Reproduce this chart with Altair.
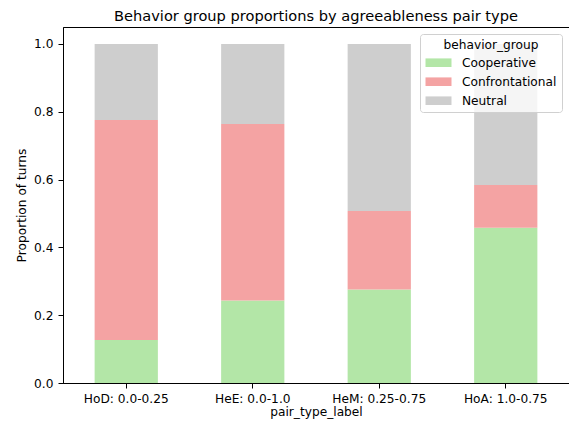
import altair as alt
import pandas as pd

pair_types = ["HoD: 0.0-0.25", "HeE: 0.0-1.0", "HeM: 0.25-0.75", "HoA: 1.0-0.75"]
groups = ["Cooperative", "Confrontational", "Neutral"]
cooperative = [0.127, 0.243, 0.276, 0.458]
confrontational = [0.649, 0.521, 0.231, 0.126]
neutral = [0.224, 0.236, 0.493, 0.416]
colors = ["#b3e6a7", "#f4a3a3", "#cecece"]

rows = []
for i, p in enumerate(pair_types):
    for j, (g, vals) in enumerate(zip(groups, [cooperative, confrontational, neutral])):
        rows.append({"pair_type_label": p, "behavior_group": g, "proportion": vals[i], "ord": j})
df = pd.DataFrame(rows)

font = "DejaVu Sans"
fs = 12.2

chart = alt.Chart(df).mark_bar().encode(
    x=alt.X("pair_type_label:N", sort=pair_types, title="pair_type_label",
            scale=alt.Scale(paddingInner=0.5, paddingOuter=0.25),
            axis=alt.Axis(labelAngle=0, labelFontSize=fs, titleFontSize=fs, labelColor="black",
                          titleColor="black", domainColor="black", tickColor="black", tickSize=5,
                          titleFontWeight="normal", labelPadding=4, titlePadding=1)),
    y=alt.Y("proportion:Q", title="Proportion of turns", stack="zero",
            scale=alt.Scale(domain=[0, 1.05], nice=False, zero=False),
            axis=alt.Axis(values=[0, 0.2, 0.4, 0.6, 0.8, 1.0], format=".1f", grid=False,
                          labelFontSize=fs, titleFontSize=fs, labelColor="black", titleColor="black",
                          domainColor="black", tickColor="black", tickSize=5, titleFontWeight="normal",
                          labelPadding=5, titlePadding=5)),
    color=alt.Color("behavior_group:N", sort=groups, title="behavior_group",
                    scale=alt.Scale(domain=groups, range=colors),
                    legend=alt.Legend(orient="none", legendX=357, legendY=7,
                                      symbolType="M-2,-0.66H2V0.66H-2Z", symbolSize=169,
                                      symbolStrokeWidth=0, symbolOffset=7, labelOffset=17,
                                      titleFontSize=fs, labelFontSize=fs, titleFontWeight="normal",
                                      titleColor="black", labelColor="black", titleAnchor="middle",
                                      fillColor="rgba(255,255,255,0.8)", strokeColor="#d0d0d0",
                                      padding=5, cornerRadius=3, rowPadding=6, titlePadding=5)),
    order=alt.Order("ord:Q", sort="ascending"),
).properties(
    width=506, height=356,
    title=alt.TitleParams("Behavior group proportions by agreeableness pair type",
                          fontSize=14.6, fontWeight="normal", color="black", font=font, offset=3),
    autosize=alt.AutoSizeParams(type="none"),
    padding={"left": 55, "top": 19, "right": 0, "bottom": 38},
).configure(font=font).configure_view(stroke="black", strokeWidth=1)

chart.save("out.html", embed_options={"renderer": "svg", "actions": False})
